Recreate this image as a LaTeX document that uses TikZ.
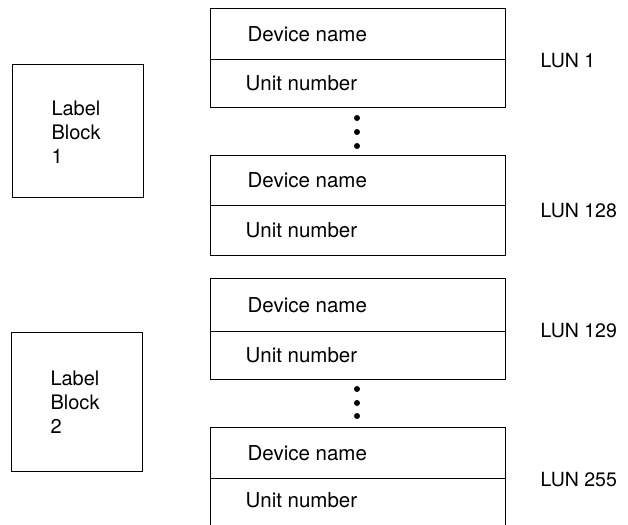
\documentclass[tikz,border=0pt]{standalone}
\usepackage{fontspec}
\setmainfont{TeX Gyre Heros}
\begin{document}
\begin{tikzpicture}[x=1pt,y=-1pt,
  line width=1.3pt,
  cell/.style={draw, rectangle, minimum width=295pt, inner sep=0pt, anchor=north west},
  lbl/.style={draw, rectangle, inner sep=0pt, anchor=north west},
  txt/.style={font=\fontsize{20.5}{24}\selectfont, inner sep=0pt, anchor=west},
  lun/.style={font=\fontsize{19.5}{24}\selectfont, inner sep=0pt, anchor=west},
  dot/.style={circle, fill=black, inner sep=0pt, minimum size=6pt}]
\useasboundingbox (0,0) rectangle (628,524);
\clip (0,0) rectangle (628,524);
% label blocks
\node[lbl, minimum width=131pt, minimum height=133pt] (lb1) at (12,64) {};
\node[font=\fontsize{20}{24}\selectfont, align=left, inner sep=0pt] (lb1t) at (76,132) {Label\\Block\\1};
\node[lbl, minimum width=131pt, minimum height=139pt] (lb2) at (11,332) {};
\node[font=\fontsize{20}{24}\selectfont, align=left, inner sep=0pt] (lb2t) at (75,402) {Label\\Block\\2};
% device entries
\node[cell, minimum height=51pt] (d1) at (210,8) {};
\node[cell, minimum height=48pt] (u1) at (210,59) {};
\node[cell, minimum height=50pt] (d2) at (210,155) {};
\node[cell, minimum height=50pt] (u2) at (210,205) {};
\node[cell, minimum height=53pt] (d3) at (210,278) {};
\node[cell, minimum height=48pt] (u3) at (210,331) {};
\node[cell, minimum height=51pt] (d4) at (210,427) {};
\node[cell, minimum height=60pt] (u4) at (210,478) {};
% texts
\foreach \n in {d1,d2,d3,d4}{\node[txt] at ([xshift=37pt]\n.west) {Device name};}
\foreach \n in {u1,u2,u3}{\node[txt] at ([xshift=35pt]\n.west) {Unit number};}
\node[txt] (u4t) at (245,500) {Unit number};
% dots
\node[dot] (a1) at (357,118) {};
\node[dot] (a2) at (357,132) {};
\node[dot] (a3) at (357,146) {};
\node[dot] (b1) at (357,389) {};
\node[dot] (b2) at (357,403) {};
\node[dot] (b3) at (357,416) {};
% LUN labels
\node[lun] (l1) at (540,61) {LUN 1};
\node[lun] (l2) at (540,211) {LUN 128};
\node[lun] (l3) at (540,331) {LUN 129};
\node[lun] (l4) at (540,480) {LUN 255};
\end{tikzpicture}
\end{document}
